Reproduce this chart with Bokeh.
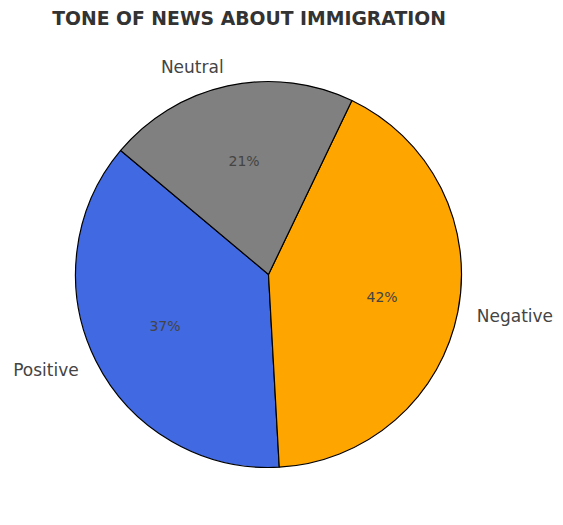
import math
from bokeh.plotting import figure
from bokeh.models import Range1d, ColumnDataSource
from bokeh.core.properties import value
from bokeh.embed import file_html
from bokeh.resources import INLINE

# Data
categories = ["Positive", "Negative", "Neutral"]
shares = [37, 42, 21]
colors = ["#4169E1", "#FFA500", "#808080"]
title_text = "TONE OF NEWS ABOUT IMMIGRATION"

W, H = 558, 517
cx, cy, R = 268, H - 274, 193
start_deg = 140

total = sum(shares)
starts, ends, mids = [], [], []
a = math.radians(start_deg)
for v in shares:
    span = 2 * math.pi * v / total
    starts.append(a)
    ends.append(a + span)
    mids.append(a + span / 2)
    a += span

src = ColumnDataSource(dict(start=starts, end=ends, color=colors))

p = figure(width=W, height=H, output_backend="svg", toolbar_location=None,
           x_range=Range1d(0, W), y_range=Range1d(0, H), min_border=0)
p.axis.visible = False
p.grid.visible = False
p.outline_line_color = None

p.wedge(x=cx, y=cy, radius=R, start_angle="start", end_angle="end",
        fill_color="color", line_color="black", line_width=1.2, source=src)

# percentage labels
px = [cx + 0.6 * R * math.cos(m) for m in mids]
py = [cy + 0.6 * R * math.sin(m) for m in mids]
pct = [f"{v / total * 100:.0f}%" for v in shares]
p.text(x=px, y=py, text=pct, text_align="center", text_baseline="middle",
       text_font=value("DejaVu Sans"), text_font_size="14px", text_color="#444444")

# category labels
lx = [cx + 1.1 * R * math.cos(m) for m in mids]
ly = [cy + 1.1 * R * math.sin(m) for m in mids]
aligns = ["left" if math.cos(m) > 0 else "right" for m in mids]
p.text(x=lx, y=ly, text=categories, text_align=aligns, text_baseline="middle",
       text_font=value("DejaVu Sans"), text_font_size="17px", text_color="#444444")

# title
p.text(x=[248.5], y=[H - 18], text=[title_text], text_align="center",
       text_baseline="middle", text_font=value("DejaVu Sans"),
       text_font_size="18.8px", text_font_style="bold", text_color="#333333")

open("out.html", "w").write(file_html(p, INLINE))
